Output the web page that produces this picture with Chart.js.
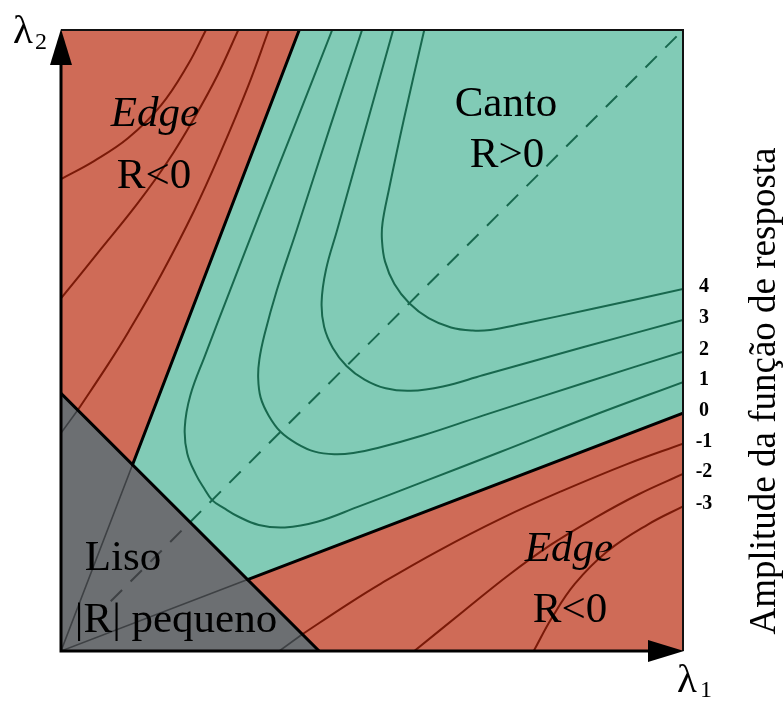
<!DOCTYPE html>
<html><head><meta charset="utf-8">
<script src="https://cdn.jsdelivr.net/npm/chart.js@4.4.1/dist/chart.umd.min.js"></script>
<style>html,body{margin:0;padding:0;background:#fff}canvas{display:block}</style>
</head><body>
<canvas id="c" width="784" height="702"></canvas>
<script>
// ---- data (λ1, λ2 in arbitrary units) ----
const lambdaRange = [0, 10];
const responseLevels = ['4','3','2','1','0','-1','-2','-3'];

const smoothRegion     = [[0,0],[4.15,0],[0,4.15],[0,0]];
const edgeRegionUpper  = [[0,4.15],[1.15,3.00],[3.83,10],[0,10],[0,4.15]];
const cornerRegion     = [[1.15,3.00],[3.83,10],[10,10],[10,3.83],[3.00,1.15],[1.15,3.00]];
const edgeRegionLower  = [[3.00,1.15],[10,3.83],[10,0],[4.15,0],[3.00,1.15]];

const zeroUpper      = [[1.15,3.00],[3.83,10]];
const zeroLower      = [[3.00,1.15],[10,3.83]];
const smoothBorder   = [[0,4.15],[4.15,0]];
const zeroUpperInner = [[0,0],[1.15,3.00]];
const zeroLowerInner = [[0,0],[3.00,1.15]];
const diagonalSmooth = [[0.8,0.8],[2.07,2.07]];
const diagonalCorner = [[2.07,2.07],[10,10]];

const cornerLevel1 = [[4.36,10],[3.76,8.47],[3.20,7.05],[2.72,5.81],[2.32,4.77],[2.08,4.12],[1.99,3.60],[2.03,3.18],[2.17,2.84],[2.30,2.62],[2.43,2.43],[2.62,2.30],[2.84,2.17],[3.18,2.03],[3.60,1.99],[4.12,2.08],[4.77,2.32],[5.81,2.72],[7.05,3.20],[8.47,3.76],[10,4.33]];
const cornerLevel2 = [[4.84,10],[4.32,8.42],[3.79,6.78],[3.47,5.81],[3.27,5.09],[3.19,4.70],[3.17,4.40],[3.21,4.08],[3.34,3.79],[3.53,3.53],[3.79,3.34],[4.08,3.21],[4.40,3.17],[4.70,3.19],[5.09,3.27],[5.81,3.47],[6.78,3.79],[8.42,4.32],[10,4.82]];
const cornerLevel3 = [[5.34,10],[4.89,8.39],[4.44,6.78],[4.26,6.14],[4.19,5.62],[4.23,5.22],[4.37,4.88],[4.59,4.59],[4.88,4.37],[5.22,4.23],[5.62,4.19],[6.14,4.26],[6.78,4.44],[8.39,4.89],[10,5.33]];
const cornerLevel4 = [[5.84,10],[5.51,8.55],[5.27,7.42],[5.17,6.90],[5.16,6.62],[5.21,6.27],[5.36,5.91],[5.60,5.60],[5.91,5.36],[6.27,5.21],[6.62,5.16],[6.90,5.17],[7.42,5.27],[8.55,5.51],[10,5.83]];

const edgeUpperM1 = [[3.34,10],[3.01,9.10],[2.57,8.04],[2.14,7.09],[1.61,6.06],[1.09,5.15],[0.76,4.62],[0.27,3.88]];
const edgeUpperM2 = [[2.85,10],[2.52,9.28],[2.14,8.58],[1.72,7.89],[1.24,7.22],[0.64,6.47],[0,5.68]];
const edgeUpperM3 = [[2.33,10],[2.04,9.44],[1.61,8.79],[1.08,8.26],[0.53,7.89],[0,7.60]];
const smoothUpperM1 = [[0.27,3.88],[0,3.51]];

const edgeLowerM1 = [[10,3.34],[9.10,3.01],[8.04,2.57],[7.09,2.14],[6.06,1.61],[5.15,1.09],[4.62,0.76],[3.88,0.27]];
const edgeLowerM2 = [[10,2.85],[9.28,2.52],[8.58,2.14],[7.89,1.72],[7.22,1.24],[6.47,0.64],[5.68,0]];
const edgeLowerM3 = [[10,2.33],[9.44,2.04],[8.79,1.61],[8.26,1.08],[7.89,0.53],[7.60,0]];
const smoothLowerM1 = [[3.88,0.27],[3.51,0]];

// series whose right-hand end carries a level label (same order as responseLevels)
const labelledSeries = [cornerLevel4, cornerLevel3, cornerLevel2, cornerLevel1, zeroLower, edgeLowerM1, edgeLowerM2, edgeLowerM3];

// ---- styles ----
const RED = 'rgb(207,107,87)', GREEN = 'rgb(129,203,182)', GRAY = 'rgb(108,111,114)';
const GREEN_LINE = 'rgb(24,104,78)', RED_LINE = 'rgb(122,26,8)', GRAY_LINE = 'rgb(62,65,68)';
const SERIF = '"Liberation Serif", "Times New Roman", serif';

const pts = a => a.map(p => ({x: p[0], y: p[1]}));
function region(a, color) {
  return {data: pts(a), fill: 'shape', backgroundColor: color, borderColor: color, borderWidth: 1,
          pointRadius: 0, tension: 0, order: 10};
}
function curve(a, color, width, extra) {
  return Object.assign({data: pts(a), fill: false, borderColor: color, borderWidth: width,
          pointRadius: 0, tension: 0.4, order: 5, borderCapStyle: 'round', borderJoinStyle: 'round'}, extra || {});
}

const datasets = [
  region(smoothRegion, GRAY),
  region(edgeRegionUpper, RED),
  region(cornerRegion, GREEN),
  region(edgeRegionLower, RED),
  curve(cornerLevel1, GREEN_LINE, 2),
  curve(cornerLevel2, GREEN_LINE, 2),
  curve(cornerLevel3, GREEN_LINE, 2),
  curve(cornerLevel4, GREEN_LINE, 2),
  curve(edgeUpperM1, RED_LINE, 2),
  curve(edgeUpperM2, RED_LINE, 2),
  curve(edgeUpperM3, RED_LINE, 2),
  curve(edgeLowerM1, RED_LINE, 2),
  curve(edgeLowerM2, RED_LINE, 2),
  curve(edgeLowerM3, RED_LINE, 2),
  curve(smoothUpperM1, GRAY_LINE, 1.6, {tension: 0}),
  curve(smoothLowerM1, GRAY_LINE, 1.6, {tension: 0}),
  curve(zeroUpperInner, GRAY_LINE, 1.6, {tension: 0}),
  curve(zeroLowerInner, GRAY_LINE, 1.6, {tension: 0}),
  curve(diagonalSmooth, GRAY_LINE, 2, {tension: 0, borderDash: [16, 12], borderCapStyle: 'butt'}),
  curve(diagonalCorner, GREEN_LINE, 2, {tension: 0, borderDash: [16, 12], borderCapStyle: 'butt'}),
  curve(zeroUpper, '#000', 3, {tension: 0, order: 1}),
  curve(zeroLower, '#000', 3, {tension: 0, order: 1}),
  curve(smoothBorder, '#000', 3, {tension: 0, order: 1}),
];

const decor = {
  id: 'decor',
  afterDraw(chart) {
    const {ctx, scales: {x, y}} = chart;
    const x0 = x.getPixelForValue(lambdaRange[0]), x1 = x.getPixelForValue(lambdaRange[1]);
    const y0 = y.getPixelForValue(lambdaRange[0]), y1 = y.getPixelForValue(lambdaRange[1]);
    ctx.save();
    // frame
    ctx.strokeStyle = '#111'; ctx.lineWidth = 2;
    ctx.beginPath(); ctx.moveTo(x0, y1); ctx.lineTo(x1, y1); ctx.lineTo(x1, y0); ctx.stroke();
    ctx.strokeStyle = '#000'; ctx.lineWidth = 3;
    ctx.beginPath(); ctx.moveTo(x0, y1 + 30); ctx.lineTo(x0, y0); ctx.lineTo(x1 - 30, y0); ctx.stroke();
    // arrow heads
    ctx.fillStyle = '#000';
    ctx.beginPath(); ctx.moveTo(x0, y1 - 1); ctx.lineTo(x0 - 11, y1 + 35); ctx.lineTo(x0 + 11, y1 + 35); ctx.closePath(); ctx.fill();
    ctx.beginPath(); ctx.moveTo(x1 + 1, y0); ctx.lineTo(x1 - 35, y0 - 11); ctx.lineTo(x1 - 35, y0 + 11); ctx.closePath(); ctx.fill();

    // axis symbols
    ctx.fillStyle = '#000'; ctx.textBaseline = 'alphabetic'; ctx.textAlign = 'left';
    ctx.font = '41px ' + SERIF; ctx.fillText('λ', x0 - 48, y1 + 13);
    ctx.font = '24px ' + SERIF; ctx.fillText('2', x0 - 26, y1 + 19);
    ctx.font = '41px ' + SERIF; ctx.fillText('λ', x1 - 6, y0 + 41);
    ctx.font = '24px ' + SERIF; ctx.fillText('1', x1 + 17, y0 + 46);

    // region labels
    ctx.textAlign = 'center';
    const put = (t, px, py, italic) => { ctx.font = (italic ? 'italic ' : '') + '43px ' + SERIF; ctx.fillText(t, px, py); };
    put('Edge', 155, 126, true);
    put('R<0', 154, 188);
    put('Canto', 506, 116);
    put('R>0', 507, 167);
    put('Edge', 569, 561, true);
    put('R<0', 570, 622);
    put('Liso', 123, 570);
    put('|R| pequeno', 176, 632);

    // level labels at the right ends of the contour lines
    ctx.font = 'bold 20px ' + SERIF; ctx.textBaseline = 'middle';
    labelledSeries.forEach((s, i) => {
      const last = s.reduce((a, b) => (b[0] >= a[0] ? b : a));
      ctx.fillText(responseLevels[i], x1 + 21, y.getPixelForValue(last[1]) - 2);
    });

    // vertical title
    ctx.translate(775, 391); ctx.rotate(-Math.PI / 2);
    ctx.textAlign = 'center'; ctx.textBaseline = 'alphabetic';
    ctx.font = '37px ' + SERIF;
    ctx.fillText('Amplitude da função de resposta', 0, 0);
    ctx.restore();
  }
};

new Chart(document.getElementById('c'), {
  type: 'line',
  data: {datasets},
  options: {
    responsive: false, animation: false, devicePixelRatio: 1,
    layout: {padding: {left: 61, top: 30, right: 101, bottom: 51}},
    scales: {
      x: {type: 'linear', min: lambdaRange[0], max: lambdaRange[1], display: false},
      y: {type: 'linear', min: lambdaRange[0], max: lambdaRange[1], display: false}
    },
    plugins: {legend: {display: false}, tooltip: {enabled: false}, title: {display: false}},
    events: []
  },
  plugins: [decor]
});
</script>
</body></html>
